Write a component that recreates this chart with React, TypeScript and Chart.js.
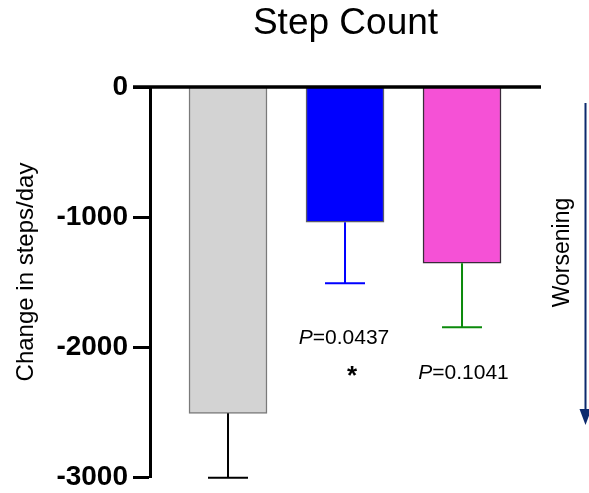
import React, { useEffect, useRef } from 'react';
import { Chart, registerables } from 'chart.js';
Chart.register(...registerables);

const groups = ['Group 1', 'Group 2', 'Group 3'];
const groupPositions = [1, 2, 3];
const meanChange = [-2510, -1040, -1356];
const semChange = [495, 470, 493];
const barColors = ['#d3d3d3', '#0000ff', '#f551d6'];
const barBorderColors = ['#7a7a7a', '#5a5a6a', '#3a2a3a'];
const errorColors = ['#000000', '#0000ff', '#0b8a0b'];
const yTickValues = [0, -1000, -2000, -3000];
const pValueTexts = ['', '=0.0437', '=0.1041'];
const titleText = 'Step Count';
const yTitleText = 'Change in steps/day';
const arrowText = 'Worsening';

const FONT = '"Liberation Sans", Arial, Helvetica, sans-serif';

const overlayPlugin = {
  id: 'overlay',
  afterDatasetsDraw(chart: any) {
    const { ctx } = chart;
    const xs = chart.scales.x;
    const ys = chart.scales.y;
    ctx.save();
    meanChange.forEach((m, i) => {
      const x = xs.getPixelForValue(groupPositions[i]);
      const y0 = ys.getPixelForValue(m);
      const y1 = ys.getPixelForValue(m - semChange[i]);
      ctx.strokeStyle = errorColors[i];
      ctx.lineWidth = 2;
      ctx.beginPath();
      ctx.moveTo(x, y0);
      ctx.lineTo(x, y1);
      ctx.moveTo(x - 20, y1);
      ctx.lineTo(x + 20, y1);
      ctx.stroke();
    });
    ctx.restore();
  },
  afterDraw(chart: any) {
    const { ctx, chartArea } = chart;
    const xs = chart.scales.x;
    const ys = chart.scales.y;
    ctx.save();
    // zero line
    const yz = ys.getPixelForValue(0);
    ctx.strokeStyle = '#000';
    ctx.lineWidth = 3.5;
    ctx.beginPath();
    ctx.moveTo(chartArea.left - 17, yz);
    ctx.lineTo(chartArea.right, yz);
    ctx.stroke();

    // title
    ctx.fillStyle = '#000';
    ctx.textAlign = 'center';
    ctx.textBaseline = 'middle';
    ctx.font = `37px ${FONT}`;
    ctx.fillText(titleText, (chartArea.left + chartArea.right) / 2, 24);

    // y title
    ctx.save();
    ctx.translate(26, 272);
    ctx.rotate(-Math.PI / 2);
    ctx.font = `24px ${FONT}`;
    ctx.fillText(yTitleText, 0, 0);
    ctx.restore();

    // p values
    const drawP = (txt: string, cx: number, cy: number) => {
      ctx.font = `italic 21px ${FONT}`;
      const wP = ctx.measureText('P').width;
      ctx.font = `21px ${FONT}`;
      const wR = ctx.measureText(txt).width;
      const start = cx - (wP + wR) / 2;
      ctx.textAlign = 'left';
      ctx.font = `italic 21px ${FONT}`;
      ctx.fillText('P', start, cy);
      ctx.font = `21px ${FONT}`;
      ctx.fillText(txt, start + wP, cy);
    };
    drawP(pValueTexts[1], xs.getPixelForValue(groupPositions[1]) - 1, ys.getPixelForValue(-1935));
    drawP(pValueTexts[2], xs.getPixelForValue(groupPositions[2]) + 1.5, ys.getPixelForValue(-2205));

    // asterisk
    ctx.textAlign = 'center';
    ctx.font = `bold 26px ${FONT}`;
    ctx.fillText('*', xs.getPixelForValue(groupPositions[1]) + 7, ys.getPixelForValue(-2190) + 5);

    // arrow
    const ax = 585.5;
    const aTop = 103;
    const aTip = 425;
    const headLen = 16;
    ctx.strokeStyle = '#0d2a6e';
    ctx.fillStyle = '#0d2a6e';
    ctx.lineWidth = 2;
    ctx.beginPath();
    ctx.moveTo(ax, aTop);
    ctx.lineTo(ax, aTip - headLen + 2);
    ctx.stroke();
    ctx.beginPath();
    ctx.moveTo(ax - 6, aTip - headLen);
    ctx.lineTo(ax + 6, aTip - headLen);
    ctx.lineTo(ax, aTip);
    ctx.closePath();
    ctx.fill();

    // Worsening
    ctx.save();
    ctx.fillStyle = '#000';
    ctx.translate(563, 252.5);
    ctx.rotate(-Math.PI / 2);
    ctx.textAlign = 'center';
    ctx.textBaseline = 'middle';
    ctx.font = `23px ${FONT}`;
    ctx.fillText(arrowText, 0, 0);
    ctx.restore();

    ctx.restore();
  },
};

export default function App() {
  const canvasRef = useRef<HTMLCanvasElement | null>(null);

  useEffect(() => {
    document.body.style.margin = '0';
    const canvas = canvasRef.current;
    if (!canvas) return;
    const chart = new Chart(canvas, {
      type: 'bar',
      data: {
        labels: groups,
        datasets: [
          {
            label: 'Change in steps/day',
            data: groupPositions.map((x, i) => ({ x, y: meanChange[i] })),
            backgroundColor: barColors,
            borderColor: barBorderColors,
            borderWidth: 1.5,
            barThickness: 78,
          },
        ],
      },
      options: {
        animation: false,
        responsive: false,
        maintainAspectRatio: false,
        layout: { padding: { top: 87, bottom: 16, left: 0, right: 48 } },
        plugins: {
          legend: { display: false },
          title: { display: false },
          tooltip: { enabled: false },
        },
        scales: {
          x: {
            type: 'linear',
            display: false,
            offset: false,
            min: 0.3333,
            max: 3.675,
          },
          y: {
            type: 'linear',
            min: -3000,
            max: 0,
            afterFit: (scale: any) => {
              scale.width = 150;
              scale.paddingTop = 0;
              scale.paddingBottom = 0;
            },
            afterBuildTicks: (scale: any) => {
              scale.ticks = yTickValues.map((v) => ({ value: v }));
            },
            border: { display: true, color: '#000', width: 3 },
            grid: {
              drawOnChartArea: false,
              drawTicks: true,
              tickLength: 17,
              tickWidth: 3,
              tickColor: '#000',
            },
            ticks: {
              color: '#000',
              padding: 5,
              font: { family: FONT, size: 28, weight: 'bold' },
              callback: (v: any) => String(v),
            },
          },
        },
      },
      plugins: [overlayPlugin],
    });
    return () => chart.destroy();
  }, []);

  return (
    <div style={{ position: 'fixed', left: 0, top: 0, width: 589, height: 493 }}>
      <canvas ref={canvasRef} width={589} height={493} style={{ width: 589, height: 493 }} />
    </div>
  );
}
